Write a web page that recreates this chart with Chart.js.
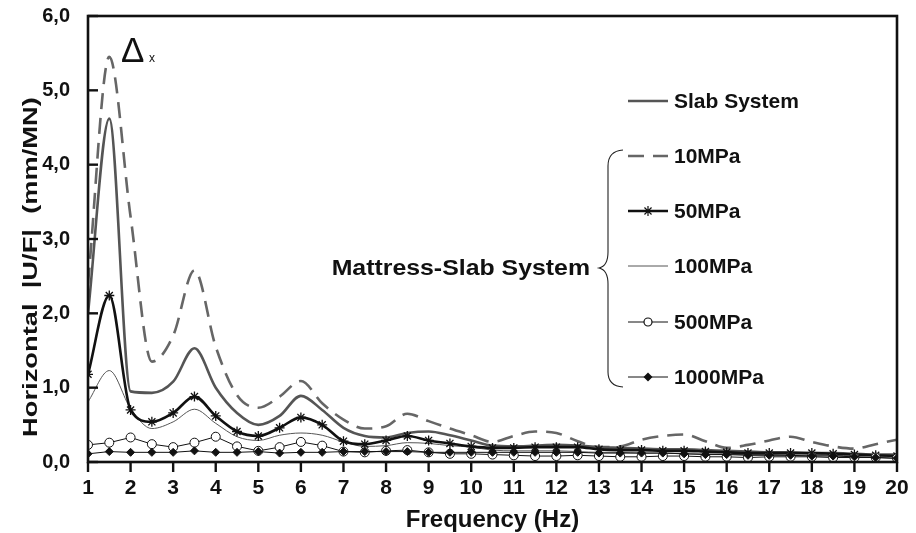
<!DOCTYPE html>
<html><head><meta charset="utf-8">
<script src="https://cdn.jsdelivr.net/npm/chart.js@4"></script>
<style>html,body{margin:0;padding:0;background:#fff;}#wrap{width:916px;height:533px;}</style>
</head><body><div id="wrap"><canvas id="c" width="916" height="533"></canvas></div>
<script>
// ---------- data ----------
const frequencies = [1,1.5,2,2.5,3,3.5,4,4.5,5,5.5,6,6.5,7,7.5,8,8.5,9,9.5,10,10.5,11,11.5,12,12.5,13,13.5,14,14.5,15,15.5,16,16.5,17,17.5,18,18.5,19,19.5,20];
const slabSystem = [2.0,4.62,0.95,0.93,1.08,1.53,1.0,0.66,0.5,0.62,0.89,0.7,0.46,0.35,0.33,0.39,0.41,0.36,0.29,0.22,0.21,0.22,0.23,0.22,0.2,0.19,0.18,0.17,0.17,0.16,0.15,0.14,0.13,0.13,0.12,0.12,0.11,0.1,0.1];
const mpa10 = [2.4,5.45,3.3,1.35,1.7,2.58,1.55,0.9,0.73,0.88,1.09,0.79,0.57,0.45,0.48,0.65,0.55,0.45,0.36,0.27,0.35,0.41,0.39,0.28,0.2,0.21,0.3,0.35,0.37,0.28,0.19,0.23,0.29,0.34,0.27,0.21,0.18,0.24,0.3];
const mpa50 = [1.18,2.24,0.7,0.54,0.66,0.88,0.62,0.41,0.35,0.46,0.6,0.5,0.28,0.24,0.29,0.35,0.29,0.25,0.21,0.19,0.19,0.2,0.2,0.2,0.17,0.16,0.16,0.15,0.15,0.14,0.13,0.12,0.12,0.12,0.12,0.11,0.1,0.09,0.08];
const mpa100 = [0.81,1.23,0.72,0.45,0.54,0.71,0.52,0.34,0.29,0.36,0.39,0.36,0.27,0.21,0.22,0.26,0.25,0.22,0.2,0.16,0.15,0.15,0.15,0.14,0.13,0.13,0.12,0.12,0.11,0.11,0.1,0.1,0.1,0.09,0.09,0.09,0.08,0.08,0.07];
const mpa500 = [0.23,0.26,0.33,0.24,0.2,0.26,0.34,0.21,0.15,0.2,0.27,0.22,0.14,0.13,0.15,0.16,0.13,0.11,0.11,0.1,0.09,0.08,0.08,0.09,0.08,0.07,0.07,0.08,0.08,0.07,0.07,0.06,0.07,0.07,0.07,0.06,0.06,0.06,0.05];
const mpa1000 = [0.11,0.14,0.13,0.13,0.13,0.15,0.13,0.13,0.14,0.12,0.13,0.13,0.14,0.14,0.14,0.14,0.13,0.13,0.13,0.13,0.13,0.13,0.13,0.13,0.12,0.12,0.12,0.12,0.11,0.1,0.1,0.09,0.09,0.09,0.08,0.08,0.07,0.06,0.05];
const xTickLabels = ['1','2','3','4','5','6','7','8','9','10','11','12','13','14','15','16','17','18','19','20'];
const yTickLabels = ['0,0','1,0','2,0','3,0','4,0','5,0','6,0'];
const seriesNames = ['Slab System','10MPa','50MPa','100MPa','500MPa','1000MPa'];
const groupLabel = 'Mattress-Slab System';
const xTitle = 'Frequency (Hz)';
const yTitle = 'Horizontal  |U/F|  (mm/MN)';

const pts = arr => arr.map((v,i)=>({x:frequencies[i], y:v}));

const styles = [
  {color:'#555', width:2.6, dash:[], marker:null},
  {color:'#666', width:2.6, dash:[16,9], marker:null},
  {color:'#111', width:2.6, dash:[], marker:'star'},
  {color:'#555', width:1, dash:[], marker:null},
  {color:'#111', width:1, dash:[], marker:'circle'},
  {color:'#111', width:1, dash:[], marker:'rectRot'}
];

const datasets = [
  {label:seriesNames[0], data:pts(slabSystem), borderColor:'#555', borderWidth:2.6, pointRadius:0, cubicInterpolationMode:'monotone', order:4},
  {label:seriesNames[1], data:pts(mpa10), borderColor:'#666', borderWidth:2.6, borderDash:[16,9], pointRadius:0, cubicInterpolationMode:'monotone', order:5},
  {label:seriesNames[2], data:pts(mpa50), borderColor:'#111', borderWidth:2.6, pointStyle:'star', pointRadius:5, pointBorderColor:'#111', pointBorderWidth:1.3, pointBackgroundColor:'#111', cubicInterpolationMode:'monotone', order:2},
  {label:seriesNames[3], data:pts(mpa100), borderColor:'#555', borderWidth:1, pointRadius:0, cubicInterpolationMode:'monotone', order:3},
  {label:seriesNames[4], data:pts(mpa500), borderColor:'#111', borderWidth:1, pointStyle:'circle', pointRadius:4.5, pointBorderColor:'#111', pointBorderWidth:1, pointBackgroundColor:'#fff', tension:0, order:1},
  {label:seriesNames[5], data:pts(mpa1000), borderColor:'#111', borderWidth:1, pointStyle:'rectRot', pointRadius:4, pointBorderColor:'#111', pointBorderWidth:1, pointBackgroundColor:'#111', tension:0, order:0}
];

function drawMarker(ctx, type, x, y){
  ctx.save();
  ctx.strokeStyle='#111'; ctx.lineWidth=1.2; ctx.setLineDash([]);
  if(type==='star'){
    const r=5; ctx.beginPath();
    ctx.moveTo(x-r,y);ctx.lineTo(x+r,y);ctx.moveTo(x,y-r);ctx.lineTo(x,y+r);
    const d=r*0.707; ctx.moveTo(x-d,y-d);ctx.lineTo(x+d,y+d);ctx.moveTo(x-d,y+d);ctx.lineTo(x+d,y-d);
    ctx.stroke();
  } else if(type==='circle'){
    ctx.beginPath(); ctx.arc(x,y,4,0,Math.PI*2); ctx.fillStyle='#fff'; ctx.fill(); ctx.stroke();
  } else if(type==='rectRot'){
    ctx.beginPath(); ctx.moveTo(x,y-4.5);ctx.lineTo(x+4.5,y);ctx.lineTo(x,y+4.5);ctx.lineTo(x-4.5,y);ctx.closePath();
    ctx.fillStyle='#111'; ctx.fill();
  }
  ctx.restore();
}

const decor = {
  id:'decor',
  afterDraw(chart){
    const ctx=chart.ctx, a=chart.chartArea, xs=chart.scales.x, ys=chart.scales.y;
    ctx.save();
    // frame
    ctx.strokeStyle='#111'; ctx.lineWidth=2.6; ctx.setLineDash([]);
    ctx.strokeRect(a.left,a.top,a.right-a.left,a.bottom-a.top);
    // y ticks inward
    ctx.lineWidth=2.4;
    ys.ticks.forEach(t=>{const y=ys.getPixelForValue(t.value); ctx.beginPath(); ctx.moveTo(a.left,y); ctx.lineTo(a.left+10,y); ctx.stroke();});
    // x ticks outward
    xs.ticks.forEach(t=>{const x=xs.getPixelForValue(t.value); ctx.beginPath(); ctx.moveTo(x,a.bottom); ctx.lineTo(x,a.bottom+10); ctx.stroke();});
    // titles
    ctx.fillStyle='#111';
    ctx.font='bold 24px "Liberation Sans Narrow", "Liberation Sans", Arial';
    ctx.textAlign='center'; ctx.textBaseline='middle';
    ctx.fillText(xTitle,(a.left+a.right)/2,520);
    ctx.save(); ctx.translate(31,267); ctx.rotate(-Math.PI/2); ctx.scale(1.3,1);
    ctx.font='bold 21px "Liberation Sans", Arial';
    ctx.fillText(yTitle,0,0); ctx.restore();
    // legend
    const ly=[101,156,211,266,322,377];
    ctx.font='bold 21px "Liberation Sans", Arial';
    ctx.textAlign='left'; ctx.textBaseline='middle';
    styles.forEach((s,i)=>{
      ctx.save(); ctx.strokeStyle=s.color; ctx.lineWidth=s.width; ctx.setLineDash(s.dash);
      ctx.beginPath(); ctx.moveTo(628,ly[i]); ctx.lineTo(668,ly[i]); ctx.stroke(); ctx.restore();
      if(s.marker) drawMarker(ctx,s.marker,648,ly[i]);
      ctx.fillStyle='#111'; ctx.fillText(seriesNames[i],674,ly[i]+1);
    });
    // brace
    ctx.strokeStyle='#222'; ctx.lineWidth=1.1; ctx.setLineDash([]);
    ctx.beginPath(); ctx.moveTo(623,150); ctx.quadraticCurveTo(608,151,608,166); ctx.lineTo(608,252);
    ctx.quadraticCurveTo(608,266,599,268); ctx.quadraticCurveTo(608,270,608,284); ctx.lineTo(608,372);
    ctx.quadraticCurveTo(608,386,623,387); ctx.stroke();
    ctx.save(); ctx.translate(590,269); ctx.scale(1.13,1);
    ctx.font='bold 22px "Liberation Sans", Arial'; ctx.textAlign='right';
    ctx.fillText(groupLabel,0,0); ctx.restore();
    // Delta annotation
    ctx.textAlign='left'; ctx.textBaseline='alphabetic';
    ctx.font='35px "Liberation Sans", Arial'; ctx.fillText('Δ',121,62);
    ctx.font='12px "Liberation Sans", Arial'; ctx.fillText('x',149,62);
    ctx.restore();
  }
};

new Chart(document.getElementById('c'), {
  type:'line',
  data:{datasets},
  options:{
    responsive:false, animation:false, devicePixelRatio:1,
    layout:{padding:{left:0,right:19,top:16,bottom:0}},
    plugins:{legend:{display:false}, tooltip:{enabled:false}},
    scales:{
      x:{type:'linear', min:1, max:20,
        ticks:{stepSize:1, autoSkip:false, maxRotation:0, padding:6, color:'#111',
          font:{family:'"Liberation Sans Narrow", "Liberation Sans", Arial', weight:'bold', size:21},
          callback:(v)=>xTickLabels[v-1]},
        grid:{display:false}, border:{display:false},
        afterFit:s=>{s.height=71; s.paddingLeft=0; s.paddingRight=0;}},
      y:{min:0, max:6,
        ticks:{stepSize:1, padding:10, color:'#111',
          font:{family:'"Liberation Sans", Arial', weight:'bold', size:20},
          callback:(v)=>yTickLabels[v]},
        grid:{display:false}, border:{display:false},
        afterFit:s=>{s.width=88; s.paddingTop=0; s.paddingBottom=0;}}
    }
  },
  plugins:[decor]
});
</script></body></html>
